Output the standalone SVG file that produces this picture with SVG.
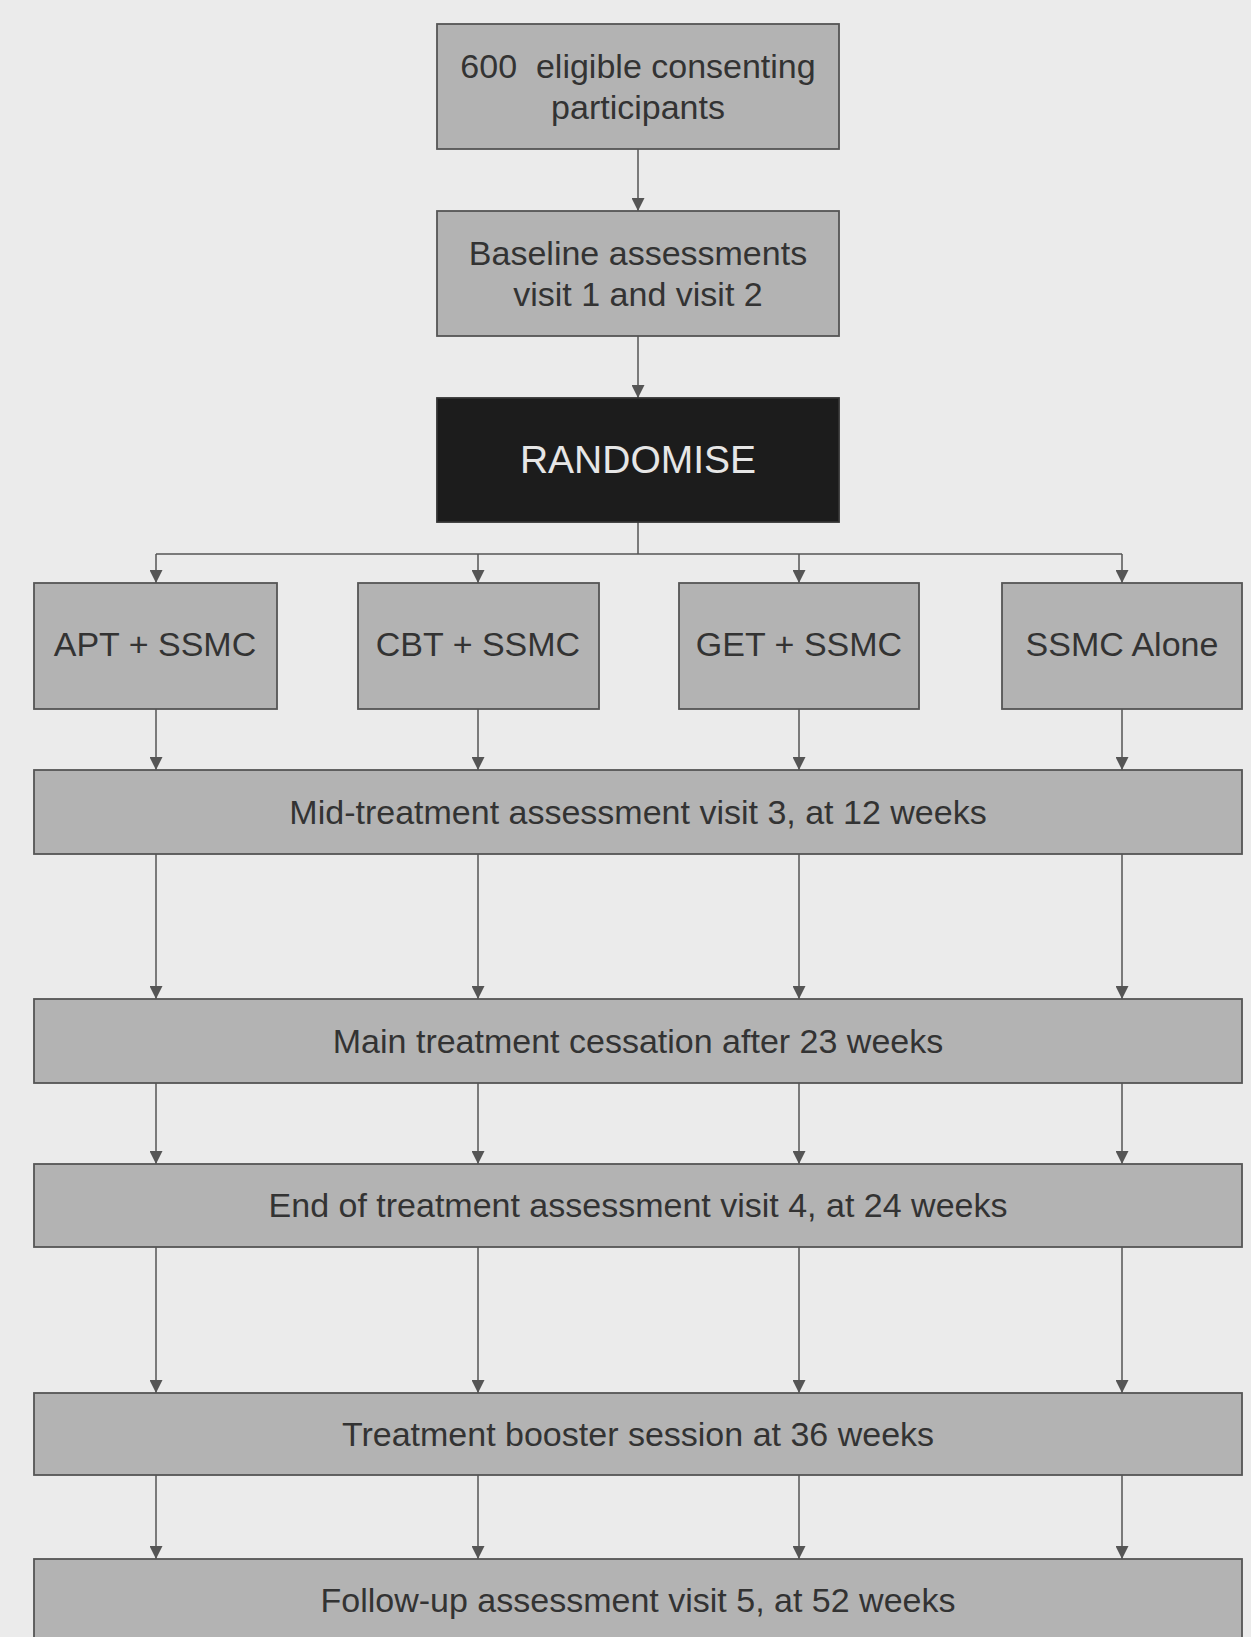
<svg xmlns="http://www.w3.org/2000/svg" width="1251" height="1637" viewBox="0 0 1251 1637">
<style>
.bg{fill:#ebebeb}
.box{fill:#b3b3b3;stroke:#555;stroke-width:1.8}
.dark{fill:#1c1c1c;stroke:#333;stroke-width:1.8}
.t{font-family:"Liberation Sans",Arial,sans-serif;font-size:34px;fill:#333;text-anchor:middle}
.tw{font-family:"Liberation Sans",Arial,sans-serif;font-size:39px;fill:#e6e6e6;text-anchor:middle}
.c{stroke:#555;stroke-width:1.5;fill:none}
</style>
<defs>
<marker id="ah" markerUnits="userSpaceOnUse" markerWidth="13" markerHeight="13" refX="13" refY="6.5" orient="auto">
<path d="M0,0 L13,6.5 L0,13 z" fill="#555"/>
</marker>
</defs>
<rect class="bg" x="0" y="0" width="1251" height="1637"/>
<g id="connectors">
<line class="c" x1="638" y1="149" x2="638" y2="211" marker-end="url(#ah)"/>
<line class="c" x1="638" y1="336" x2="638" y2="398" marker-end="url(#ah)"/>
<line class="c" x1="638" y1="522" x2="638" y2="554"/>
<line class="c" x1="156" y1="554" x2="1122" y2="554"/>
<line class="c" x1="156" y1="554" x2="156" y2="583" marker-end="url(#ah)"/>
<line class="c" x1="478" y1="554" x2="478" y2="583" marker-end="url(#ah)"/>
<line class="c" x1="799" y1="554" x2="799" y2="583" marker-end="url(#ah)"/>
<line class="c" x1="1122" y1="554" x2="1122" y2="583" marker-end="url(#ah)"/>
<line class="c" x1="156" y1="709" x2="156" y2="770" marker-end="url(#ah)"/>
<line class="c" x1="478" y1="709" x2="478" y2="770" marker-end="url(#ah)"/>
<line class="c" x1="799" y1="709" x2="799" y2="770" marker-end="url(#ah)"/>
<line class="c" x1="1122" y1="709" x2="1122" y2="770" marker-end="url(#ah)"/>
<line class="c" x1="156" y1="854" x2="156" y2="999" marker-end="url(#ah)"/>
<line class="c" x1="478" y1="854" x2="478" y2="999" marker-end="url(#ah)"/>
<line class="c" x1="799" y1="854" x2="799" y2="999" marker-end="url(#ah)"/>
<line class="c" x1="1122" y1="854" x2="1122" y2="999" marker-end="url(#ah)"/>
<line class="c" x1="156" y1="1083" x2="156" y2="1164" marker-end="url(#ah)"/>
<line class="c" x1="478" y1="1083" x2="478" y2="1164" marker-end="url(#ah)"/>
<line class="c" x1="799" y1="1083" x2="799" y2="1164" marker-end="url(#ah)"/>
<line class="c" x1="1122" y1="1083" x2="1122" y2="1164" marker-end="url(#ah)"/>
<line class="c" x1="156" y1="1247" x2="156" y2="1393" marker-end="url(#ah)"/>
<line class="c" x1="478" y1="1247" x2="478" y2="1393" marker-end="url(#ah)"/>
<line class="c" x1="799" y1="1247" x2="799" y2="1393" marker-end="url(#ah)"/>
<line class="c" x1="1122" y1="1247" x2="1122" y2="1393" marker-end="url(#ah)"/>
<line class="c" x1="156" y1="1475" x2="156" y2="1559" marker-end="url(#ah)"/>
<line class="c" x1="478" y1="1475" x2="478" y2="1559" marker-end="url(#ah)"/>
<line class="c" x1="799" y1="1475" x2="799" y2="1559" marker-end="url(#ah)"/>
<line class="c" x1="1122" y1="1475" x2="1122" y2="1559" marker-end="url(#ah)"/>
</g>
<g id="participants">
<rect class="box" x="437" y="24" width="402" height="125"/>
<text class="t" x="638" y="78" xml:space="preserve">600  eligible consenting</text>
<text class="t" x="638" y="119">participants</text>
</g>
<g id="baseline">
<rect class="box" x="437" y="211" width="402" height="125"/>
<text class="t" x="638" y="265">Baseline assessments</text>
<text class="t" x="638" y="306">visit 1 and visit 2</text>
</g>
<g id="randomise">
<rect class="dark" x="437" y="398" width="402" height="124"/>
<text class="tw" x="638" y="473">RANDOMISE</text>
</g>
<g id="apt">
<rect class="box" x="34" y="583" width="243" height="126"/>
<text class="t" x="155" y="656">APT + SSMC</text>
</g>
<g id="cbt">
<rect class="box" x="358" y="583" width="241" height="126"/>
<text class="t" x="478" y="656">CBT + SSMC</text>
</g>
<g id="get">
<rect class="box" x="679" y="583" width="240" height="126"/>
<text class="t" x="799" y="656">GET + SSMC</text>
</g>
<g id="ssmc">
<rect class="box" x="1002" y="583" width="240" height="126"/>
<text class="t" x="1122" y="656">SSMC Alone</text>
</g>
<g id="mid">
<rect class="box" x="34" y="770" width="1208" height="84"/>
<text class="t" x="638" y="824">Mid-treatment assessment visit 3, at 12 weeks</text>
</g>
<g id="main">
<rect class="box" x="34" y="999" width="1208" height="84"/>
<text class="t" x="638" y="1053">Main treatment cessation after 23 weeks</text>
</g>
<g id="end">
<rect class="box" x="34" y="1164" width="1208" height="83"/>
<text class="t" x="638" y="1217">End of treatment assessment visit 4, at 24 weeks</text>
</g>
<g id="booster">
<rect class="box" x="34" y="1393" width="1208" height="82"/>
<text class="t" x="638" y="1446">Treatment booster session at 36 weeks</text>
</g>
<g id="followup">
<rect class="box" x="34" y="1559" width="1208" height="100"/>
<text class="t" x="638" y="1612">Follow-up assessment visit 5, at 52 weeks</text>
</g>
</svg>
